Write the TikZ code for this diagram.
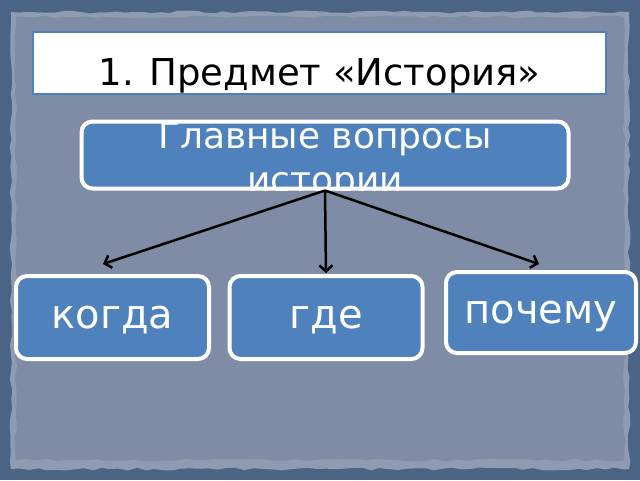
\documentclass[tikz,border=0pt]{standalone}
\usepackage{fontspec}
\setmainfont{DejaVu Sans}
\usetikzlibrary{arrows.meta,decorations.pathmorphing}
\definecolor{slate}{HTML}{4B6384}
\definecolor{paper}{HTML}{7E8DA5}
\definecolor{paperrim}{HTML}{8E9BB0}
\definecolor{boxblue}{HTML}{4F81BD}
\begin{document}
\begin{tikzpicture}[x=1pt,y=-1pt,
  qbox/.style={fill=boxblue,draw=white,line width=4pt,rounded corners=11pt,text=white,font=\fontsize{40}{44}\selectfont,inner sep=0pt,text height=22pt,text depth=0pt},
  qtext/.style={anchor=base,text=white,font=\fontsize{36}{40}\selectfont},
  ask/.style={black,line width=2.5pt,-{Straight Barb[length=6pt,width=13pt]}}]
\useasboundingbox (0,0) rectangle (640,480);
\fill[slate] (0,0) rectangle (640,480);
\pgfmathsetseed{11}
\fill[paperrim,decorate,decoration={random steps,segment length=9pt,amplitude=1.5pt}] (11,12) rectangle (629,469);
\fill[paper,decorate,decoration={random steps,segment length=10pt,amplitude=1.5pt}] (16,17) rectangle (624,460);

\draw (319.5,63) node[fill=white,draw=boxblue,line width=1.5pt,minimum width=573pt,minimum height=62pt,inner sep=0pt,text height=44pt,text depth=0pt,font=\fontsize{37}{40}\selectfont] (title) {1. Предмет «История»};

\draw (325,155) node[qbox,minimum width=487pt,minimum height=67pt] (main) {};
\begin{scope}
\clip[rounded corners=11pt] (main.south west) rectangle (main.north east);
\draw (325,148) node[qtext] (mainA) {Главные вопросы};
\draw (325,192) node[qtext] (mainB) {истории};
\end{scope}

\draw (112.5,317.5) node[qbox,minimum width=193pt,minimum height=83pt] (when) {когда};
\draw (326,317.5) node[qbox,minimum width=193pt,minimum height=83pt] (where) {где};
\draw (541,312.5) node[qbox,minimum width=190pt,minimum height=81pt] (why) {почему};

\coordinate (whenTip) at (103,264);
\coordinate (whereTip) at (326,273);
\coordinate (whyTip) at (539,264);
\draw[ask] (main.south) to (whenTip) ;
\draw[ask] (main.south) to (whereTip) ;
\draw[ask] (main.south) to (whyTip) ;
\end{tikzpicture}
\end{document}
